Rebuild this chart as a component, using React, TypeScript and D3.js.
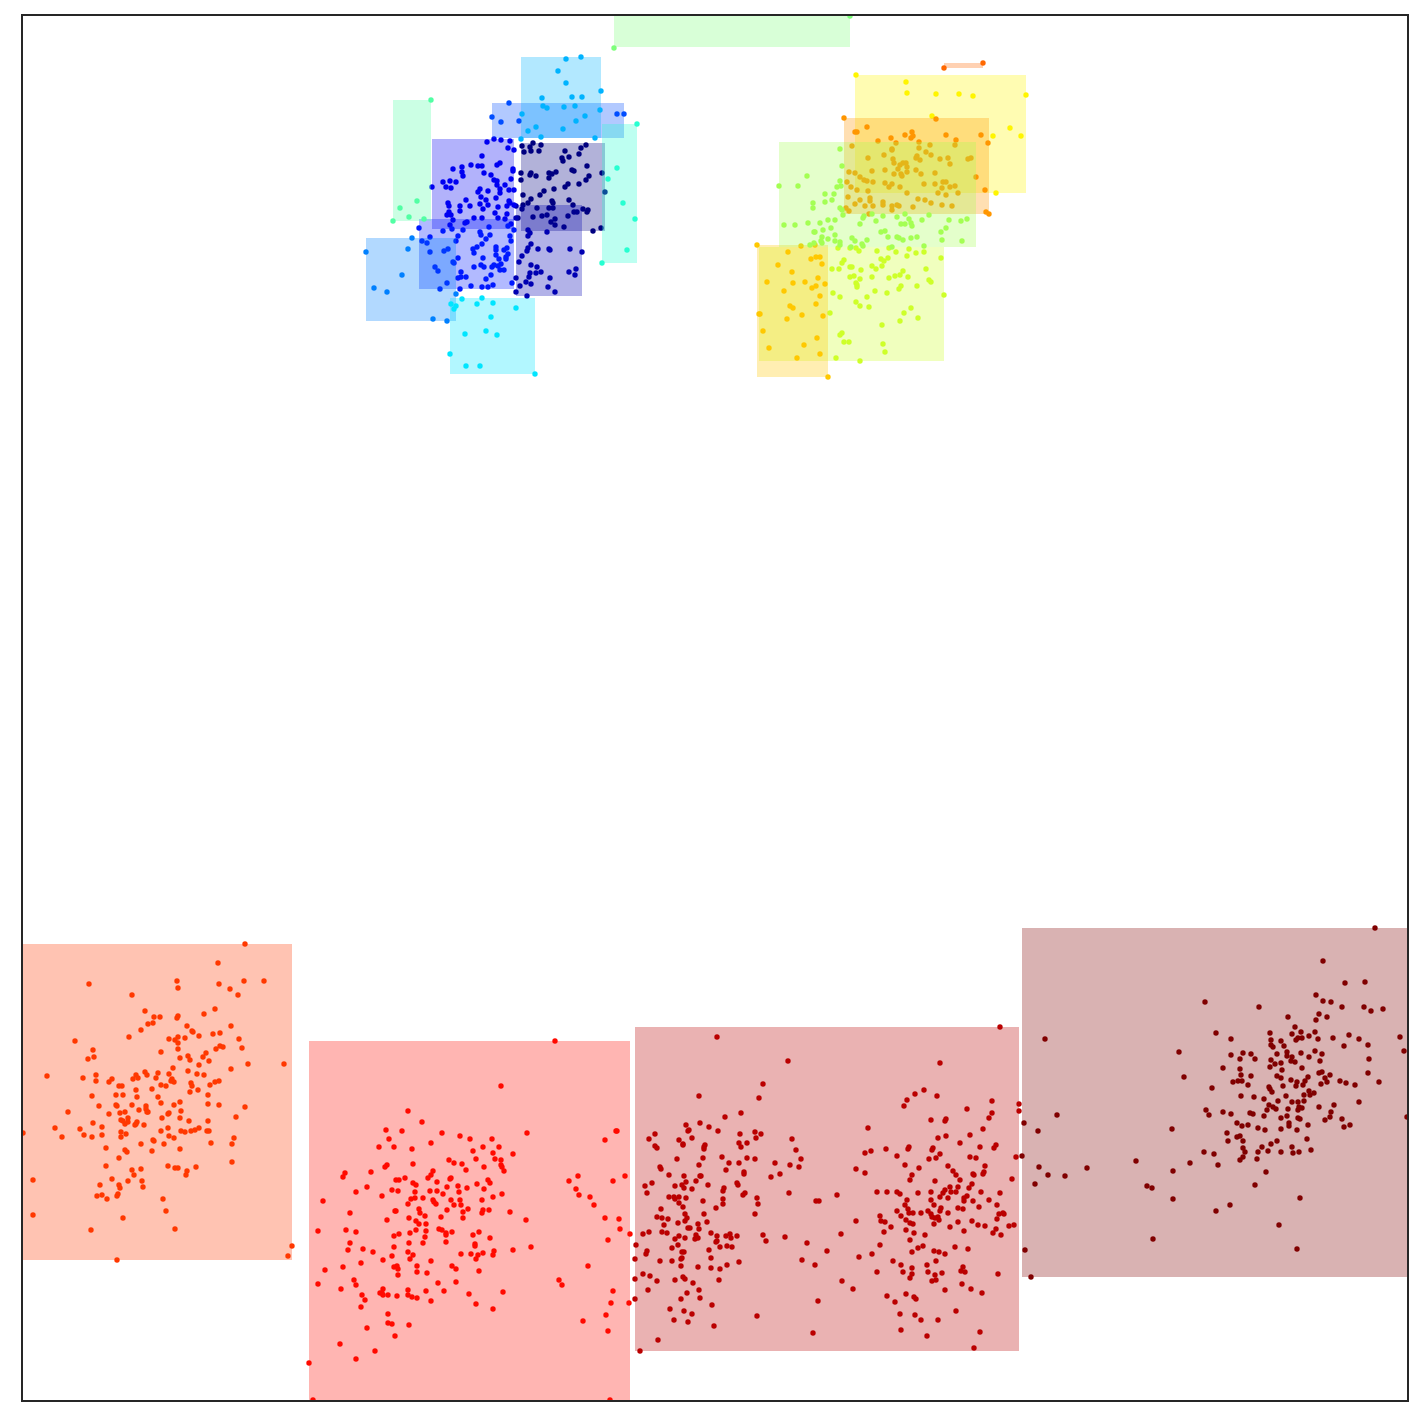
import React from "react";
import * as d3 from "d3";

type P = [number, number];

const colors = ["#000080","#0000b2","#0000f1","#0019ff","#004dff","#0080ff","#00b3ff","#00e5ff","#26ffd1","#52ffa4","#7dff7a","#a4ff53","#ceff29","#fff500","#ffc800","#ff9600","#ff6800","#ff3800","#ff0a00","#ba0000","#800000"];

// [xMin, xMax, yMin, yMax]
const boxes = [
  [521,605,143,231],[516,582,205,296],[432,514,139,229],[419,514,219,289],[492,624,103,138],[366,456,238,321],
  [521,601,57,138],[450,535,298,374],[602,637,124,263],[393,431,100,221],[614,850,15,47],[779,976,142,247],
  [759,944,247,361],[855,1026,75,193],[757,828,245,377],[844,989,118,214],[944,983,63,68],[22,292,944,1260],
  [309,630,1041,1400],[635,1019,1027,1351],[1022,1408,928,1277],
];

const c00: P[] = [[522,146],[533,143],[530,147],[531,151],[541,145],[539,151],[524,152],[586,145],[581,148],[565,151],[579,154],[562,158],[563,161],[569,157],[587,166],[572,170],[574,171],[556,172],[549,173],[552,174],[549,178],[531,173],[530,175],[536,176],[521,173],[521,180],[589,176],[586,180],[602,173],[568,184],[565,187],[579,184],[554,189],[544,191],[540,195],[523,195],[605,192],[531,199],[528,203],[523,205],[569,200],[552,201],[553,203],[573,205],[537,208],[549,208],[553,208],[583,209],[588,210],[522,209],[587,212],[577,212],[574,212],[568,216],[547,215],[542,216],[533,217],[518,218],[555,219],[551,222],[555,225],[564,227],[601,228],[593,231]];
const c01: P[] = [[547,232],[528,230],[530,233],[528,236],[531,244],[528,248],[527,251],[538,249],[549,249],[550,250],[570,249],[582,252],[522,256],[519,262],[531,265],[537,267],[541,272],[536,273],[530,273],[529,277],[569,272],[576,269],[575,275],[550,278],[516,278],[526,282],[531,284],[520,286],[516,292],[548,287],[555,292],[527,296],[516,206],[516,218]];
const c02: P[] = [[487,142],[494,139],[501,140],[510,141],[508,148],[514,150],[482,156],[500,163],[497,165],[471,165],[478,166],[482,166],[462,167],[453,169],[462,172],[463,176],[484,173],[491,175],[513,169],[513,171],[511,179],[494,180],[497,181],[443,182],[450,181],[456,182],[446,187],[451,188],[432,187],[497,185],[505,185],[480,189],[478,192],[488,191],[500,189],[509,190],[514,190],[500,193],[481,197],[496,198],[486,200],[466,200],[448,203],[480,204],[488,205],[509,201],[510,203],[514,205],[449,206],[460,206],[470,206],[498,207],[507,206],[483,209],[460,211],[495,213],[507,214],[449,212],[447,215],[451,215],[474,218],[482,218],[498,218],[505,219],[453,220],[467,222],[465,223],[511,224],[450,225]];
const c03: P[] = [[419,228],[508,226],[452,229],[489,227],[463,230],[443,231],[514,230],[480,232],[481,235],[458,236],[490,235],[510,236],[486,239],[456,241],[511,241],[430,237],[422,241],[427,243],[482,244],[448,249],[444,251],[430,252],[477,247],[473,249],[474,253],[496,247],[496,250],[507,248],[504,250],[508,254],[496,255],[506,257],[506,259],[458,258],[483,258],[499,259],[453,262],[454,263],[501,264],[481,265],[484,267],[474,267],[494,265],[492,267],[498,266],[500,270],[504,270],[435,267],[438,271],[461,272],[491,275],[466,277],[461,277],[458,278],[486,279],[447,283],[471,286],[482,287],[488,287],[493,285],[512,283],[440,289],[460,289]];
const c04: P[] = [[509,103],[492,117],[501,122],[519,121],[617,114],[624,114]];
const c05: P[] = [[412,238],[366,252],[408,249],[402,275],[374,288],[387,292],[433,319],[447,321],[456,294]];
const c06: P[] = [[566,59],[581,57],[558,71],[566,83],[601,91],[542,98],[572,97],[582,97],[543,106],[547,108],[564,107],[575,106],[600,110],[522,114],[585,116],[576,121],[536,127],[528,131],[563,129],[541,137],[521,139],[595,138]];
const c07: P[] = [[462,299],[482,298],[477,304],[493,303],[451,304],[456,306],[454,309],[516,308],[491,317],[465,334],[486,331],[497,335],[450,354],[466,366],[480,366],[535,374]];
const c08: P[] = [[637,124],[617,168],[608,179],[623,203],[635,219],[627,250],[602,263]];
const c09: P[] = [[431,100],[417,201],[400,208],[409,217],[393,221],[424,219]];
const c10: P[] = [[850,16],[614,48]];
const c11: P[] = [[840,149],[842,166],[807,176],[779,186],[798,186],[840,181],[837,187],[841,186],[825,194],[834,194],[832,200],[825,202],[813,203],[813,208],[840,208],[842,210],[843,215],[864,216],[863,218],[872,214],[883,216],[897,217],[905,214],[929,215],[909,219],[922,220],[949,220],[961,221],[967,219],[828,220],[835,220],[808,223],[820,223],[876,221],[784,225],[795,225],[860,224],[901,224],[911,223],[905,224],[912,226],[831,228],[946,228],[941,232],[823,230],[814,232],[815,232],[835,235],[885,231],[881,232],[822,237],[821,241],[828,239],[888,237],[897,237],[899,238],[903,240],[911,238],[917,237],[942,240],[962,241],[835,241],[840,242],[852,238],[855,241],[867,240],[862,244],[863,246],[822,243],[814,243],[810,245],[840,245],[851,247],[892,247],[924,246]];
const c12: P[] = [[838,248],[850,248],[856,248],[859,251],[889,248],[877,251],[896,252],[909,249],[916,253],[924,252],[907,256],[888,258],[881,259],[884,261],[941,258],[844,260],[842,263],[882,266],[872,266],[876,269],[850,267],[852,267],[832,269],[839,269],[861,270],[926,269],[903,271],[900,275],[895,276],[908,277],[889,278],[872,277],[850,277],[854,276],[860,279],[929,280],[931,282],[856,283],[857,285],[857,287],[917,286],[901,286],[899,289],[875,291],[887,293],[833,293],[840,297],[867,297],[944,295],[856,302],[860,306],[869,307],[911,308],[830,313],[904,313],[918,318],[900,321],[882,325],[842,333],[840,335],[844,342],[849,342],[883,344],[885,352],[836,358],[860,361]];
const c13: P[] = [[856,75],[906,82],[907,93],[936,94],[959,94],[973,96],[1026,95],[932,116],[1010,128],[993,136],[1021,136],[996,193]];
const c14: P[] = [[757,245],[801,246],[815,245],[788,252],[811,259],[816,257],[820,257],[778,265],[822,264],[792,272],[767,282],[793,283],[805,282],[818,278],[825,284],[816,286],[812,288],[784,291],[820,296],[816,304],[790,306],[793,308],[759,314],[760,314],[802,315],[823,316],[787,319],[763,331],[817,338],[804,345],[769,348],[820,354],[797,358],[828,377]];
const c15: P[] = [[844,118],[936,119],[867,127],[855,132],[857,132],[912,132],[905,135],[913,136],[911,138],[891,138],[946,135],[981,135],[956,140],[878,141],[896,143],[919,142],[988,143],[930,145],[955,145],[852,146],[892,149],[892,150],[919,148],[926,152],[931,155],[884,155],[868,158],[893,159],[917,156],[916,158],[920,160],[940,159],[948,158],[968,159],[971,158],[894,163],[950,164],[903,163],[906,163],[900,165],[907,167],[898,169],[885,170],[872,171],[849,172],[855,173],[916,170],[894,174],[901,174],[902,176],[907,172],[921,174],[935,173],[860,177],[864,180],[867,181],[873,182],[847,182],[976,177],[885,183],[892,184],[889,187],[851,187],[900,187],[924,184],[935,184],[943,182],[946,182],[942,188],[950,187],[955,186],[857,190],[868,191],[985,190],[907,193],[938,193],[946,195],[958,193],[848,197],[870,198],[870,201],[860,200],[918,199],[925,200],[883,202],[883,205],[855,204],[931,203],[865,206],[873,206],[892,206],[897,205],[899,206],[892,210],[913,207],[942,205],[952,206],[846,208],[849,211],[869,214],[986,212],[989,214]];
const c16: P[] = [[944,68],[983,63]];
const c17: P[] = [[245,944],[218,963],[89,984],[177,981],[178,988],[219,984],[230,989],[244,981],[264,981],[238,995],[132,995],[215,1009],[204,1014],[145,1011],[154,1017],[160,1017],[178,1016],[177,1018],[153,1023],[148,1024],[141,1030],[187,1026],[231,1026],[192,1031],[193,1032],[213,1034],[220,1033],[199,1036],[129,1037],[169,1039],[178,1037],[175,1040],[185,1038],[178,1043],[239,1039],[75,1041],[93,1050],[94,1057],[88,1059],[161,1052],[178,1049],[216,1049],[220,1046],[223,1047],[242,1048],[206,1053],[203,1057],[188,1056],[190,1060],[180,1058],[209,1061],[248,1064],[284,1064],[199,1065],[173,1068],[231,1069],[47,1076],[83,1078],[96,1075],[96,1081],[109,1082],[112,1079],[133,1079],[136,1075],[138,1078],[145,1072],[147,1075],[158,1073],[156,1078],[169,1074],[188,1071],[197,1074],[204,1075],[172,1079],[171,1081],[174,1082],[191,1083],[192,1086],[215,1082],[219,1081],[210,1085],[161,1085],[166,1086],[119,1086],[122,1086],[136,1090],[152,1089],[198,1090],[190,1092],[92,1096],[116,1095],[123,1095],[137,1097],[158,1097],[208,1095],[161,1103],[180,1102],[99,1106],[116,1105],[132,1105],[146,1106],[174,1105],[208,1104],[219,1105],[117,1106],[146,1109],[147,1112],[245,1107],[148,1112],[68,1112],[109,1114],[120,1113],[125,1112],[139,1110],[181,1111],[162,1118],[168,1114],[169,1113],[180,1118],[236,1117],[189,1121],[208,1121],[121,1120],[128,1118],[125,1124],[128,1122],[123,1121],[135,1125],[137,1122],[136,1124],[144,1125],[93,1123],[102,1127],[55,1128],[80,1129],[161,1131],[168,1128],[181,1131],[185,1132],[191,1131],[195,1130],[199,1128],[207,1131],[209,1131],[23,1133],[62,1137],[84,1135],[92,1137],[102,1135],[121,1132],[126,1134],[121,1137],[169,1136],[174,1138],[234,1138],[232,1144],[141,1144],[153,1140],[154,1141],[164,1144],[211,1143],[106,1148],[125,1150],[127,1152],[152,1151],[180,1149],[119,1158],[232,1162],[106,1166],[168,1166],[132,1170],[141,1169],[175,1168],[178,1168],[196,1167],[187,1171],[186,1175],[134,1175],[112,1179],[128,1181],[142,1181],[33,1180],[100,1185],[119,1185],[120,1188],[143,1187],[97,1196],[102,1195],[107,1199],[117,1196],[118,1194],[163,1199],[166,1211],[33,1215],[123,1218],[91,1230],[175,1229],[292,1246],[288,1256],[117,1260]];
const c18: P[] = [[555,1041],[501,1086],[408,1111],[422,1122],[386,1130],[402,1131],[442,1133],[527,1133],[460,1136],[470,1139],[492,1139],[389,1139],[379,1147],[394,1147],[412,1149],[431,1143],[483,1147],[499,1147],[473,1151],[493,1153],[513,1154],[476,1159],[495,1159],[449,1160],[454,1163],[462,1164],[501,1160],[501,1165],[413,1164],[387,1165],[385,1167],[484,1167],[502,1167],[466,1170],[504,1171],[371,1172],[345,1173],[343,1177],[433,1171],[431,1175],[428,1178],[405,1178],[396,1180],[399,1180],[450,1179],[451,1178],[437,1182],[413,1183],[416,1185],[488,1180],[490,1183],[477,1184],[447,1187],[458,1186],[367,1187],[392,1190],[398,1191],[430,1191],[437,1191],[415,1192],[467,1188],[484,1189],[459,1192],[443,1194],[356,1192],[502,1194],[493,1197],[382,1196],[411,1199],[415,1198],[423,1198],[433,1200],[434,1202],[436,1204],[451,1200],[460,1200],[482,1200],[323,1201],[408,1204],[454,1205],[461,1205],[419,1209],[420,1213],[447,1210],[468,1209],[463,1212],[483,1210],[482,1213],[489,1210],[510,1212],[350,1213],[395,1211],[396,1211],[425,1216],[441,1217],[409,1218],[463,1218],[387,1220],[416,1221],[526,1220],[578,1176],[569,1181],[576,1189],[579,1195],[590,1197],[594,1205],[605,1140],[616,1131],[617,1131],[613,1181],[625,1176],[605,1218],[619,1219],[419,1224],[426,1224],[318,1231],[346,1230],[356,1232],[416,1230],[426,1231],[439,1229],[442,1230],[446,1233],[446,1235],[452,1232],[479,1232],[473,1235],[410,1233],[394,1236],[399,1234],[425,1237],[490,1238],[620,1229],[630,1234],[608,1240],[350,1243],[409,1243],[423,1243],[446,1242],[475,1244],[475,1246],[394,1247],[531,1247],[348,1250],[363,1249],[513,1250],[494,1251],[493,1255],[373,1252],[408,1252],[413,1255],[392,1256],[461,1254],[471,1254],[478,1255],[483,1253],[476,1259],[410,1259],[383,1260],[431,1261],[361,1263],[343,1267],[394,1267],[397,1266],[398,1269],[417,1266],[452,1266],[456,1269],[588,1266],[325,1270],[417,1272],[427,1273],[479,1271],[398,1275],[354,1280],[356,1285],[559,1280],[562,1285],[318,1284],[438,1283],[456,1282],[341,1289],[383,1289],[380,1293],[382,1293],[383,1295],[388,1295],[408,1290],[408,1295],[412,1297],[417,1298],[426,1291],[444,1291],[397,1296],[469,1294],[503,1292],[613,1291],[362,1295],[365,1300],[431,1301],[476,1304],[611,1303],[629,1303],[361,1307],[493,1309],[606,1315],[388,1314],[388,1323],[392,1324],[409,1325],[583,1321],[367,1328],[608,1331],[395,1336],[340,1344],[375,1351],[356,1359],[309,1363],[313,1400],[610,1400]];
const c19: P[] = [[717,1037],[788,1061],[763,1084],[759,1098],[699,1096],[741,1113],[725,1117],[686,1125],[700,1123],[709,1127],[689,1130],[688,1131],[718,1131],[740,1134],[755,1132],[761,1134],[655,1134],[649,1139],[679,1140],[692,1138],[756,1138],[792,1139],[683,1144],[683,1145],[705,1145],[704,1147],[704,1149],[739,1143],[741,1147],[747,1143],[655,1146],[657,1148],[796,1150],[722,1157],[703,1158],[677,1159],[747,1158],[755,1159],[801,1159],[729,1163],[739,1163],[775,1163],[699,1165],[790,1165],[799,1167],[660,1167],[661,1169],[726,1170],[744,1172],[744,1174],[780,1174],[669,1175],[684,1176],[700,1176],[701,1176],[771,1177],[652,1183],[645,1186],[675,1186],[682,1185],[686,1182],[684,1188],[696,1181],[708,1185],[737,1183],[738,1185],[724,1188],[723,1191],[692,1189],[647,1193],[743,1195],[745,1193],[789,1193],[669,1197],[674,1197],[675,1199],[679,1197],[686,1198],[679,1203],[703,1201],[723,1199],[723,1204],[757,1198],[758,1204],[816,1201],[819,1201],[683,1207],[661,1209],[716,1208],[685,1214],[704,1214],[755,1214],[657,1217],[662,1218],[668,1219],[687,1218],[685,1221],[707,1222],[678,1223],[664,1225],[698,1224],[688,1228],[690,1228],[699,1229],[662,1232],[667,1233],[649,1232],[643,1234],[711,1233],[717,1236],[730,1234],[726,1236],[731,1238],[737,1236],[679,1236],[675,1239],[685,1238],[696,1235],[695,1239],[698,1238],[763,1235],[785,1237],[766,1241],[717,1241],[716,1242],[807,1243],[636,1245],[678,1245],[672,1248],[720,1247],[727,1246],[732,1247],[709,1250],[647,1251],[646,1254],[682,1252],[684,1252],[827,1251],[635,1259],[682,1258],[681,1259],[711,1258],[660,1261],[672,1261],[739,1262],[802,1260],[681,1266],[698,1267],[711,1268],[720,1269],[727,1265],[815,1265],[643,1274],[650,1276],[635,1279],[657,1281],[675,1280],[683,1277],[685,1279],[719,1280],[693,1283],[648,1290],[699,1290],[687,1293],[681,1299],[700,1298],[635,1299],[818,1301],[712,1305],[670,1309],[684,1311],[692,1314],[757,1316],[674,1320],[688,1322],[714,1326],[813,1333],[658,1340],[640,1351],[1000,1027],[940,1063],[924,1090],[915,1094],[907,1100],[904,1106],[937,1096],[992,1101],[967,1109],[992,1113],[989,1118],[1019,1104],[1019,1111],[931,1120],[946,1119],[945,1121],[983,1129],[868,1128],[938,1138],[946,1136],[970,1135],[960,1143],[996,1145],[994,1148],[980,1147],[933,1148],[932,1150],[909,1147],[908,1149],[886,1149],[871,1151],[865,1153],[897,1156],[940,1154],[936,1158],[929,1159],[970,1157],[976,1158],[1016,1157],[905,1165],[948,1166],[985,1166],[919,1168],[856,1169],[865,1173],[953,1171],[956,1175],[973,1174],[974,1175],[984,1172],[983,1174],[912,1175],[910,1180],[960,1180],[935,1181],[1012,1179],[972,1184],[969,1188],[950,1187],[958,1187],[945,1190],[943,1193],[877,1192],[887,1192],[897,1192],[900,1194],[918,1193],[931,1192],[951,1192],[956,1192],[981,1192],[1000,1193],[837,1195],[940,1197],[948,1198],[967,1196],[964,1198],[964,1201],[973,1201],[989,1200],[907,1200],[931,1200],[905,1205],[934,1205],[997,1205],[979,1207],[958,1208],[963,1209],[941,1208],[940,1211],[908,1209],[897,1211],[909,1213],[913,1213],[921,1213],[928,1211],[931,1214],[948,1213],[999,1214],[1004,1214],[1003,1213],[880,1216],[901,1216],[932,1217],[938,1217],[935,1218],[939,1220],[997,1219],[856,1221],[881,1221],[885,1222],[906,1220],[910,1223],[913,1224],[934,1224],[958,1222],[972,1221],[978,1225],[985,1226],[1009,1226],[1014,1225],[950,1227],[891,1227],[906,1230],[884,1232],[914,1233],[964,1231],[996,1229],[993,1233],[1001,1235],[841,1234],[925,1235],[910,1240],[880,1245],[923,1246],[918,1248],[955,1247],[968,1249],[934,1251],[939,1252],[945,1254],[912,1252],[872,1254],[859,1257],[893,1261],[936,1261],[901,1265],[927,1265],[912,1268],[963,1267],[961,1271],[965,1272],[877,1272],[903,1272],[928,1272],[942,1273],[912,1274],[910,1278],[935,1275],[998,1274],[936,1280],[932,1281],[842,1281],[962,1284],[853,1289],[971,1289],[945,1290],[982,1293],[887,1296],[906,1294],[914,1297],[916,1299],[895,1302],[956,1311],[900,1314],[915,1315],[921,1320],[938,1320],[901,1330],[980,1332],[927,1336],[974,1348]];
const c20: P[] = [[1045,1039],[1179,1052],[1184,1077],[1057,1115],[1024,1123],[1038,1131],[1172,1129],[1022,1156],[1136,1161],[1190,1163],[1039,1167],[1087,1168],[1173,1171],[1048,1175],[1065,1176],[1035,1184],[1147,1186],[1152,1188],[1173,1199],[1153,1239],[1025,1250],[1031,1277],[1375,928],[1323,961],[1345,983],[1365,982],[1205,1002],[1259,1007],[1316,995],[1323,1001],[1331,1002],[1342,1007],[1364,1007],[1371,1011],[1383,1009],[1288,1017],[1319,1014],[1327,1017],[1316,1020],[1295,1027],[1216,1033],[1270,1033],[1292,1034],[1301,1032],[1315,1032],[1309,1036],[1349,1035],[1400,1037],[1231,1039],[1271,1040],[1296,1040],[1298,1038],[1302,1038],[1318,1039],[1333,1038],[1359,1039],[1281,1041],[1271,1045],[1273,1047],[1284,1046],[1344,1046],[1368,1045],[1404,1051],[1243,1053],[1231,1055],[1251,1054],[1277,1054],[1287,1052],[1287,1056],[1301,1053],[1315,1051],[1322,1054],[1240,1059],[1255,1059],[1271,1060],[1292,1057],[1291,1061],[1295,1062],[1309,1057],[1320,1061],[1369,1059],[1275,1064],[1281,1063],[1270,1067],[1223,1068],[1240,1069],[1282,1070],[1302,1068],[1241,1075],[1251,1076],[1277,1076],[1281,1078],[1319,1073],[1322,1072],[1330,1075],[1368,1073],[1308,1077],[1291,1080],[1233,1082],[1238,1081],[1242,1081],[1325,1078],[1327,1082],[1340,1081],[1379,1082],[1297,1082],[1305,1081],[1248,1085],[1296,1086],[1303,1085],[1321,1084],[1346,1083],[1355,1085],[1283,1086],[1212,1088],[1269,1087],[1270,1089],[1272,1092],[1309,1091],[1314,1093],[1310,1095],[1304,1095],[1241,1096],[1286,1096],[1254,1097],[1264,1099],[1278,1101],[1292,1102],[1298,1102],[1304,1101],[1359,1102],[1269,1105],[1273,1107],[1276,1109],[1288,1109],[1299,1107],[1302,1108],[1298,1110],[1319,1107],[1334,1105],[1267,1110],[1206,1110],[1209,1115],[1223,1112],[1231,1114],[1250,1113],[1253,1114],[1264,1116],[1287,1116],[1281,1118],[1298,1118],[1300,1119],[1331,1112],[1330,1117],[1325,1120],[1342,1119],[1407,1117],[1237,1123],[1242,1126],[1248,1125],[1258,1128],[1265,1130],[1281,1129],[1289,1123],[1289,1126],[1297,1130],[1308,1125],[1350,1125],[1344,1127],[1227,1133],[1237,1137],[1240,1136],[1228,1141],[1243,1141],[1277,1141],[1307,1139],[1271,1144],[1262,1147],[1292,1147],[1243,1148],[1245,1152],[1258,1152],[1268,1151],[1281,1152],[1293,1153],[1299,1152],[1311,1150],[1204,1152],[1214,1154],[1243,1157],[1240,1160],[1257,1159],[1218,1165],[1266,1172],[1255,1185],[1300,1198],[1230,1205],[1216,1211],[1279,1225],[1297,1249]];

const clusters = [c00,c01,c02,c03,c04,c05,c06,c07,c08,c09,c10,c11,c12,c13,c14,c15,c16,c17,c18,c19,c20];
// painting order of the groups
const paintOrder = [0,1,2,3,4,5,6,7,8,9,10,12,13,14,15,16,11,17,18,19,20];

const size = 1423;
const left = 22, right = 1408, top = 15, bottom = 1401;
const x = d3.scaleLinear().domain([22, 1408]).range([left, right]);
const y = d3.scaleLinear().domain([15, 1401]).range([top, bottom]);

export default function App() {
  return (
    <svg width={size} height={size} style={{ position: "absolute", left: 0, top: 0, background: "#fff" }}>
      <defs>
        <clipPath id="plot"><rect x={left} y={top} width={right - left} height={bottom - top} /></clipPath>
      </defs>
      <g clipPath="url(#plot)">
        {paintOrder.map((i) => {
          const [x0, x1, y0, y1] = boxes[i];
          return (
            <g key={i}>
              <rect x={x(x0)} y={y(y0)} width={x(x1) - x(x0)} height={y(y1) - y(y0)} fill={colors[i]} fillOpacity={0.3} />
              {clusters[i].map((d, j) => (
                <circle key={j} cx={x(d[0])} cy={y(d[1])} r={2.7} fill={colors[i]} />
              ))}
            </g>
          );
        })}
      </g>
      <rect x={left} y={top} width={right - left} height={bottom - top} fill="none" stroke="#262626" strokeWidth={2} />
    </svg>
  );
}
